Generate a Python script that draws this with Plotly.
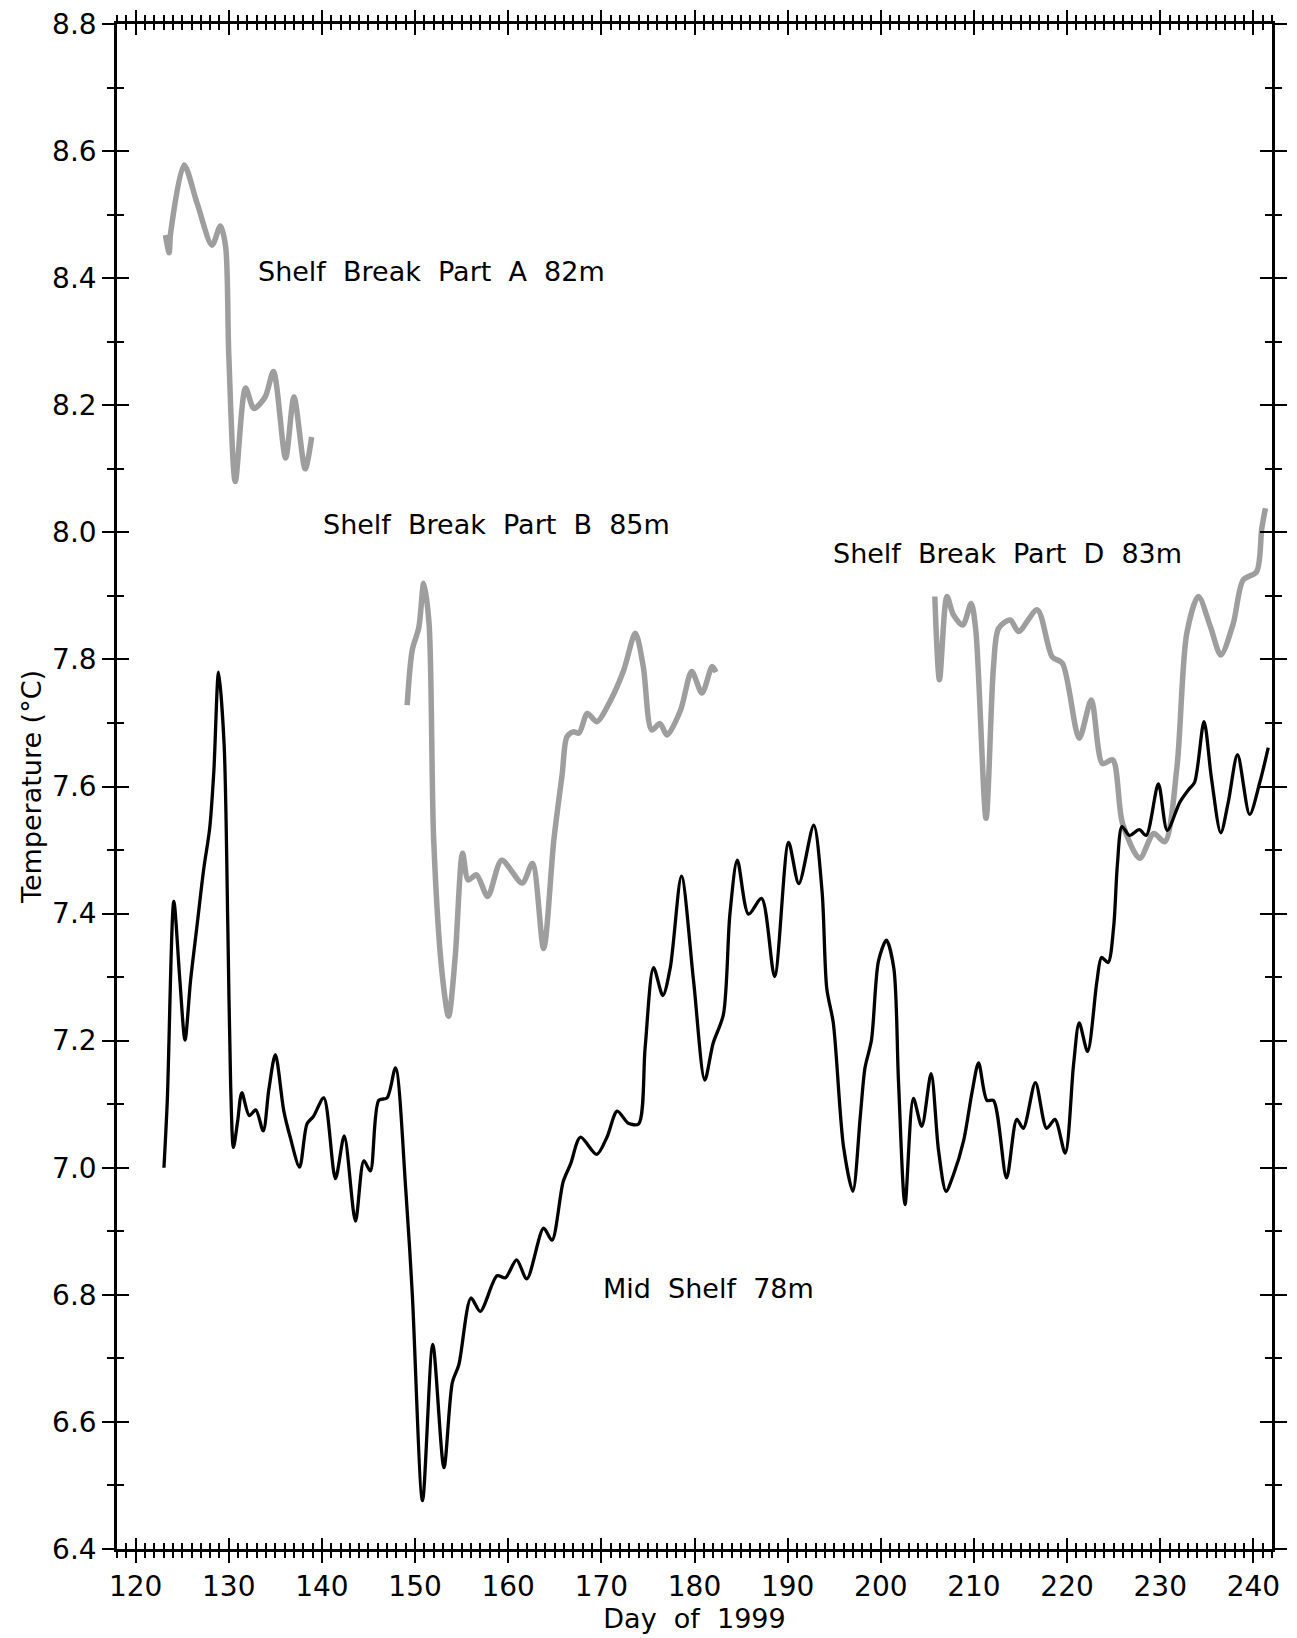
import plotly.graph_objects as go

# Shelf Break Part A 82m
day_a = [123.2, 123.6, 123.75, 125.2, 126.6, 128.2, 129.1, 129.66, 130.0, 130.7,
         131.8, 132.7, 133.9, 134.8, 136.1, 137.0, 138.2, 138.9]
temp_a = [8.468, 8.44, 8.47, 8.578, 8.518, 8.452, 8.482, 8.45, 8.28, 8.08,
          8.227, 8.195, 8.213, 8.253, 8.117, 8.213, 8.10, 8.15]

# Shelf Break Part B 85m
day_b = [149.15, 149.7, 150.4, 150.93, 151.5, 152.0, 152.9, 153.6, 154.3, 155.1,
         155.7, 156.6, 157.8, 159.3, 161.5, 162.6, 163.8, 164.9, 165.8, 166.3,
         167.0, 167.6, 168.5, 169.5, 171.0, 172.4, 173.65, 174.5, 175.4, 176.3,
         177.05, 178.5, 179.7, 180.8, 181.9, 182.3]
temp_b = [7.728, 7.815, 7.85, 7.92, 7.857, 7.516, 7.306, 7.238, 7.33, 7.495,
          7.453, 7.461, 7.427, 7.484, 7.448, 7.479, 7.345, 7.516, 7.62, 7.678,
          7.686, 7.684, 7.715, 7.702, 7.736, 7.783, 7.841, 7.789, 7.689, 7.699,
          7.681, 7.72, 7.781, 7.747, 7.789, 7.78]

# Shelf Break Part D 83m
day_d = [205.8, 206.3, 207.1, 207.8, 208.8, 209.7, 210.2, 211.3, 212.1, 212.65,
         213.9, 214.8, 216.8, 218.4, 219.5, 221.3, 222.6, 223.8, 224.9, 225.95,
         227.8, 229.3, 230.5, 231.8, 232.85, 234.1, 235.4, 236.5, 237.85, 238.9,
         240.35, 240.9, 241.3]
temp_d = [7.899, 7.768, 7.899, 7.87, 7.854, 7.888, 7.846, 7.55, 7.789, 7.849,
          7.862, 7.844, 7.878, 7.804, 7.794, 7.676, 7.736, 7.636, 7.642, 7.542,
          7.487, 7.526, 7.513, 7.631, 7.841, 7.899, 7.851, 7.807, 7.857, 7.925,
          7.938, 8.006, 8.038]

# Mid Shelf 78m
day_m = [123.04, 123.4, 124.1, 124.75, 125.3, 125.9, 126.6, 127.3, 127.95, 128.4,
         128.9, 129.5, 129.9, 130.2, 130.5, 130.95, 131.4, 132.2, 132.9, 133.7,
         134.3, 135.0, 135.9, 136.6, 137.6, 138.4, 139.1, 140.2, 141.45, 142.4,
         143.6, 144.5, 145.2, 146.1, 147.0, 147.9, 149.0, 149.7, 150.8, 151.9,
         153.1, 154.0, 154.7, 156.0, 157.0, 158.8, 159.7, 160.9, 162.0, 163.8,
         164.7, 165.9, 166.7, 167.75, 169.5, 170.6, 171.7, 172.9, 174.0, 174.7,
         175.6, 176.6, 177.4, 178.6, 179.9, 181.1, 182.0, 183.1, 183.8, 184.6,
         185.8, 187.2, 188.6, 190.1, 191.2, 192.8, 193.7, 194.2, 194.9, 196.0,
         197.0, 197.8, 198.3, 199.0, 199.75, 200.6, 201.4, 201.9, 202.6, 203.5,
         204.4, 205.4, 206.2, 207.0, 207.8, 208.9, 209.8, 210.5, 211.4, 212.1,
         213.5, 214.6, 215.3, 216.6, 217.8, 218.7, 219.8, 220.7, 221.3, 222.2,
         223.2, 223.7, 224.4, 225.0, 225.4, 225.9, 226.7, 227.75, 228.5, 229.8,
         230.75, 232.1, 233.1, 233.7, 234.7, 235.5, 236.5, 237.3, 238.3, 239.6,
         240.7, 241.6]
temp_m = [7.0, 7.106, 7.419, 7.295, 7.201, 7.295, 7.382, 7.469, 7.534, 7.625,
          7.78, 7.666, 7.378, 7.131, 7.032, 7.073, 7.118, 7.082, 7.091, 7.058,
          7.123, 7.178, 7.09, 7.048, 7.001, 7.069, 7.081, 7.11, 6.983, 7.05,
          6.916, 7.011, 6.995, 7.106, 7.11, 7.157, 6.966, 6.802, 6.476, 6.722,
          6.528, 6.662, 6.69, 6.795, 6.774, 6.83, 6.827, 6.855, 6.825, 6.905,
          6.886, 6.978, 7.006, 7.048, 7.021, 7.048, 7.089, 7.07, 7.069, 7.189,
          7.315, 7.271, 7.315, 7.459, 7.294, 7.138, 7.196, 7.241, 7.399, 7.484,
          7.399, 7.424, 7.301, 7.512, 7.447, 7.539, 7.434, 7.282, 7.228, 7.033,
          6.963, 7.081, 7.157, 7.201, 7.325, 7.358, 7.314, 7.136, 6.942, 7.109,
          7.065, 7.148, 7.027, 6.963, 6.989, 7.043, 7.119, 7.165, 7.106, 7.106,
          6.984, 7.076, 7.062, 7.134, 7.062, 7.076, 7.023, 7.163, 7.228, 7.183,
          7.293, 7.331, 7.323, 7.379, 7.477, 7.537, 7.523, 7.532, 7.523, 7.604,
          7.531, 7.575, 7.596, 7.607, 7.702, 7.613, 7.527, 7.575, 7.65, 7.556,
          7.607, 7.661]

labels = ["Shelf  Break  Part  A  82m", "Shelf  Break  Part  B  85m",
          "Shelf  Break  Part  D  83m", "Mid  Shelf  78m"]
label_x = [132.9, 139.9, 194.7, 170.0]
label_y = [8.41, 8.013, 7.967, 6.81]

FONT = "DejaVu Sans"
GRAY = "rgb(158,158,158)"

fig = go.Figure()
for xs, ys in [(day_a, temp_a), (day_b, temp_b), (day_d, temp_d)]:
    fig.add_trace(go.Scatter(x=xs, y=ys, mode="lines",
                             line=dict(color=GRAY, width=5.5, shape="spline", smoothing=0.8)))
fig.add_trace(go.Scatter(x=day_m, y=temp_m, mode="lines",
                         line=dict(color="black", width=3.3, shape="spline", smoothing=0.8)))
# empty trace so the overlay axes get drawn
fig.add_trace(go.Scatter(x=[], y=[], xaxis="x2", yaxis="y2", showlegend=False))

for t, x, y in zip(labels, label_x, label_y):
    fig.add_annotation(x=x, y=y, text=t.replace(" ", "&nbsp;"), showarrow=False,
                       xanchor="left", yanchor="middle",
                       font=dict(family=FONT, size=27, color="black"))

xr = [118.0, 242.0]
yr = [6.4, 8.8]
common_x = dict(range=xr, dtick=10, tick0=120, showline=True, linecolor="black",
                linewidth=2.5, mirror="allticks", ticklen=11, tickwidth=2,
                tickcolor="black", showgrid=False, zeroline=False, automargin=False,
                ticklabeloverflow="allow")
common_y = dict(range=yr, dtick=0.2, tick0=6.4, showline=True, linecolor="black",
                linewidth=2.5, mirror="allticks", ticklen=12, tickwidth=2,
                tickcolor="black", showgrid=False, zeroline=False, automargin=False,
                ticklabeloverflow="allow")

# the page body adds an 8px offset, so the figure is shifted to compensate
fig.update_layout(
    width=1289, height=1630,
    margin=dict(l=109, r=25, t=16, b=89),
    plot_bgcolor="white", paper_bgcolor="white",
    showlegend=False,
    font=dict(family=FONT, size=28, color="black"),
    xaxis=dict(**common_x, ticks="outside",
               minor=dict(dtick=1, ticks="outside", ticklen=6, tickwidth=2, tickcolor="black"),
               title=dict(text="Day&nbsp;&nbsp;of&nbsp;&nbsp;1999", standoff=1, font=dict(size=27)),
               tickfont=dict(size=28)),
    xaxis2=dict(**common_x, ticks="inside", overlaying="x", anchor="y2", side="bottom",
                showticklabels=False,
                minor=dict(dtick=1, ticks="inside", ticklen=6, tickwidth=2, tickcolor="black")),
    yaxis=dict(**common_y, ticks="outside", tickformat=".1f",
               minor=dict(dtick=0.1, ticks="outside", ticklen=7, tickwidth=2, tickcolor="black"),
               title=dict(text="Temperature (°C)", standoff=3, font=dict(size=27)),
               tickfont=dict(size=28)),
    yaxis2=dict(**common_y, ticks="inside", overlaying="y", anchor="x2", side="left",
                showticklabels=False,
                minor=dict(dtick=0.1, ticks="inside", ticklen=7, tickwidth=2, tickcolor="black")),
)

fig.write_html("out.html")
